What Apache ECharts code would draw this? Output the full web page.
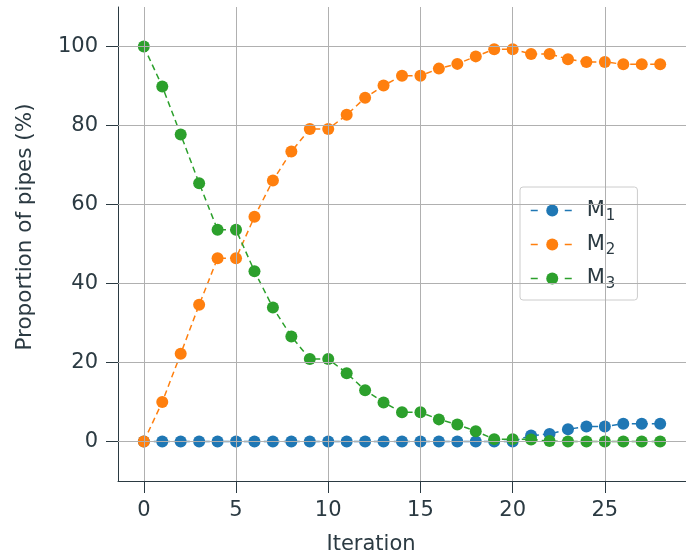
<!DOCTYPE html>
<html>
<head>
<meta charset="utf-8">
<script src="https://cdn.jsdelivr.net/npm/echarts@6/dist/echarts.min.js"></script>
<style>html,body{margin:0;padding:0;background:#fff}#c{width:686px;height:560px}</style>
</head>
<body>
<div id="c"></div>
<script>
const iterations = [0,1,2,3,4,5,6,7,8,9,10,11,12,13,14,15,16,17,18,19,20,21,22,23,24,25,26,27,28];
const m1 = [0,0,0,0,0,0,0,0,0,0,0,0,0,0,0,0,0,0,0,0,0,1.5,1.9,3.1,3.8,3.8,4.5,4.5,4.5];
const m2 = [0,10,22.2,34.6,46.4,46.4,56.9,66.1,73.4,79.1,79.1,82.7,87,90.1,92.6,92.6,94.4,95.6,97.5,99.3,99.3,98.1,98.1,96.8,96.1,96.1,95.5,95.5,95.5];
const m3 = [100,89.9,77.7,65.4,53.6,53.6,43.1,33.9,26.6,20.9,20.9,17.3,13,9.9,7.4,7.4,5.6,4.3,2.6,0.6,0.6,0.5,0.1,0,0,0,0,0,0];
const seriesNames = ['M1','M2','M3'];
const legendLabels = {M1:'M{sub|1}', M2:'M{sub|2}', M3:'M{sub|3}'};
const colors = ['#1f77b4','#ff7f0e','#2ca02c'];
const xTicks = [0,5,10,15,20,25];
const yTicks = [0,20,40,60,80,100];

const textColor = '#2b3a42';
const font = 'DejaVu Sans';
const chart = echarts.init(document.getElementById('c'), null, {renderer:'canvas'});

function mk(name, vals, color){
  return {
    name: name, type:'line', z:3,
    data: iterations.map((x,i)=>[x, vals[i]]),
    symbol:'circle', symbolSize:12,
    itemStyle:{color:color},
    lineStyle:{color:color, width:1.5, type:[6,4]},
    emphasis:{disabled:true}
  };
}

chart.setOption({
  animation:false,
  textStyle:{fontFamily:font},
  grid:{left:118, right:0, top:7, bottom:79, containLabel:false},
  xAxis:{
    type:'value', min:-1.4, max:29.4,
    name:'Iteration', nameLocation:'middle', nameGap:53,
    nameTextStyle:{color:textColor, fontSize:21, fontFamily:font, padding:[0,62,0,0]},
    axisLine:{show:true, onZero:false, lineStyle:{color:textColor, width:1}},
    axisTick:{show:true, length:12, customValues:xTicks, lineStyle:{color:textColor, width:1}},
    axisLabel:{customValues:xTicks, color:textColor, fontSize:21, fontFamily:font, margin:19},
    splitLine:{show:false}
  },
  yAxis:{
    type:'value', min:-10, max:110,
    name:'Proportion of pipes (%)', nameLocation:'middle', nameGap:82, nameRotate:90,
    nameTextStyle:{color:textColor, fontSize:21.5, fontFamily:font, padding:[0,0,0,34]},
    axisLine:{show:true, onZero:false, lineStyle:{color:textColor, width:1}},
    axisTick:{show:true, length:12, customValues:yTicks, lineStyle:{color:textColor, width:1}},
    axisLabel:{customValues:yTicks, color:textColor, fontSize:21, fontFamily:font, margin:20},
    splitLine:{show:false}
  },
  legend:{
    data:seriesNames,
    orient:'vertical', left:520, top:187,
    padding:[10,22,8,10],
    itemWidth:43, itemHeight:15, itemGap:7,
    backgroundColor:'rgba(255,255,255,0.8)',
    borderColor:'#cccccc', borderWidth:1, borderRadius:3,
    lineStyle:{type:[7,10], width:1.5},
    formatter: function(n){ return legendLabels[n]; },
    textStyle:{
      color:textColor, fontSize:21, fontFamily:font, lineHeight:21, padding:[0,0,0,8],
      rich:{
        sub:{color:textColor, fontSize:15, fontFamily:font, lineHeight:15, padding:[12,0,0,1]}
      }
    }
  },
  series:[
    {
      type:'line', z:1, data:[], silent:true,
      markLine:{
        silent:true, symbol:'none', animation:false,
        label:{show:false},
        lineStyle:{color:'#b0b0b0', type:'solid', width:1},
        emphasis:{disabled:true},
        data: xTicks.map(v=>({xAxis:v})).concat(yTicks.map(v=>({yAxis:v})))
      }
    },
    mk(seriesNames[0], m1, colors[0]),
    mk(seriesNames[1], m2, colors[1]),
    mk(seriesNames[2], m3, colors[2])
  ]
});
</script>
</body>
</html>
